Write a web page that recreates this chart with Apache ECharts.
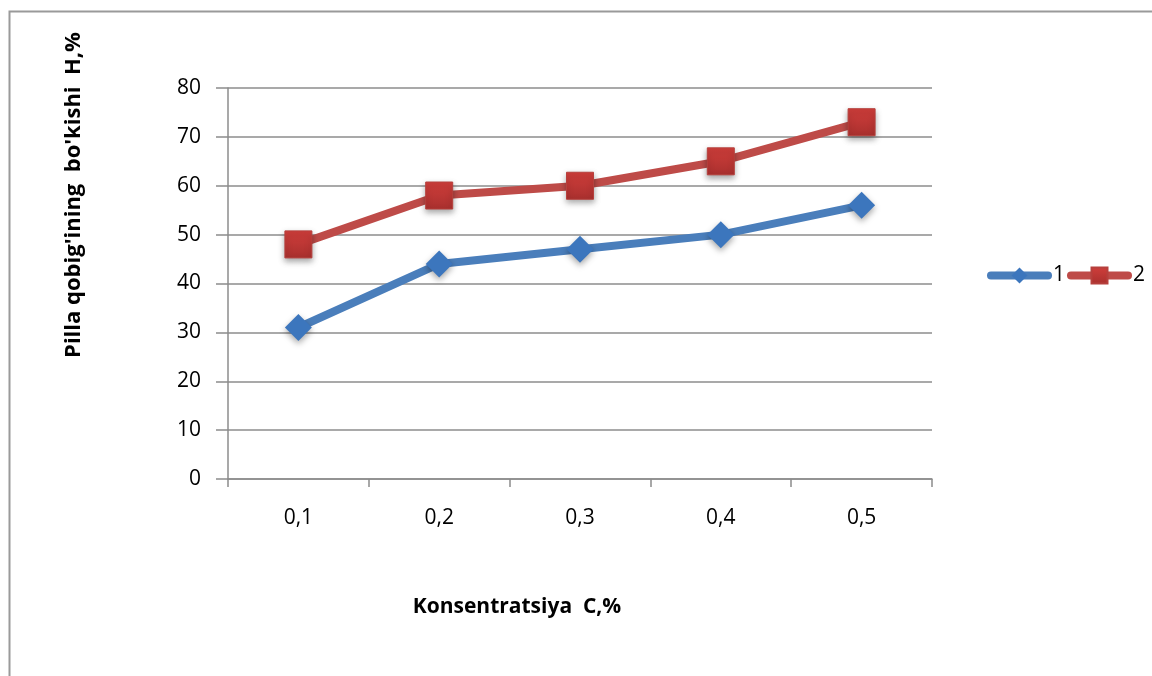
<!DOCTYPE html>
<html>
<head>
<meta charset="utf-8">
<script src="https://cdn.jsdelivr.net/npm/echarts@6/dist/echarts.min.js"></script>
<style>
  html, body { margin: 0; padding: 0; background: #fff; }
  #chart { width: 1152px; height: 676px; }
</style>
</head>
<body>
<div id="chart"></div>
<script>
// Concentration categories and the two measured series
const categories = ['0,1', '0,2', '0,3', '0,4', '0,5'];
const series1 = [31, 44, 47, 50, 56];
const series2 = [48, 58, 60, 65, 73];
const seriesNames = ['1', '2'];
const yTicks = { min: 0, max: 80, interval: 10 };

const font = '"Open Sans", Lato, sans-serif';
const axisGrey = '#8c8c8c';
const chart = echarts.init(document.getElementById('chart'));

chart.setOption({
  animation: false,
  backgroundColor: '#fff',
  grid: { left: 228, right: 220, top: 88, bottom: 197, containLabel: false },
  legend: {
    orient: 'horizontal',
    left: 987, top: 265, width: 200, padding: 0,
    itemWidth: 57, itemHeight: 20, itemGap: 2,
    lineStyle: { width: 8, cap: 'round' },
    textStyle: { fontFamily: font, fontSize: 21, color: '#000' },
    data: seriesNames
  },
  xAxis: {
    type: 'category',
    data: categories,
    boundaryGap: true,
    axisLine: { lineStyle: { color: axisGrey, width: 1.5 } },
    axisTick: { show: true, length: 8, lineStyle: { color: axisGrey, width: 1.5 } },
    axisLabel: { fontFamily: font, fontSize: 21, color: '#000', margin: 29 }
  },
  yAxis: {
    type: 'value',
    min: yTicks.min, max: yTicks.max, interval: yTicks.interval,
    axisLine: { show: true, lineStyle: { color: axisGrey, width: 1.5 } },
    axisTick: { show: true, length: 12, lineStyle: { color: axisGrey, width: 1.5 } },
    axisLabel: { fontFamily: font, fontSize: 21, color: '#000', margin: 27 },
    splitLine: { lineStyle: { color: axisGrey, width: 1.5 } }
  },
  series: [
    {
      name: seriesNames[0], type: 'line', data: series1,
      symbol: 'diamond', symbolSize: 27,
      lineStyle: { width: 8, color: '#4a7ebb', cap: 'round', join: 'round' },
      itemStyle: {
        color: '#3c76bd',
        shadowBlur: 6, shadowColor: 'rgba(0,0,0,0.35)', shadowOffsetY: 3
      }
    },
    {
      name: seriesNames[1], type: 'line', data: series2,
      symbol: 'rect', symbolSize: 27,
      lineStyle: { width: 8, color: '#be4b48', cap: 'round', join: 'round' },
      itemStyle: {
        color: new echarts.graphic.LinearGradient(0, 0, 0, 1, [
          { offset: 0, color: '#d03e3b' }, { offset: 1, color: '#a9302e' }
        ]),
        borderColor: '#b6403d', borderWidth: 1,
        shadowBlur: 6, shadowColor: 'rgba(0,0,0,0.35)', shadowOffsetY: 3
      }
    }
  ],
  graphic: [
    {
      type: 'rect', left: 7, top: 9, silent: true,
      shape: { width: 1160, height: 680 },
      style: { fill: 'none', stroke: '#9a9a9a', lineWidth: 2 }
    },
    {
      type: 'text', x: 74, y: 195, rotation: Math.PI / 2, silent: true,
      style: {
        text: "Pilla qobig'ining  bo'kishi  H,%",
        font: 'bold 22px ' + font, fill: '#000',
        textAlign: 'center', textVerticalAlign: 'middle'
      }
    },
    {
      type: 'text', x: 517, y: 607, silent: true,
      style: {
        text: 'Konsentratsiya  C,%',
        font: 'bold 21px ' + font, fill: '#000',
        textAlign: 'center', textVerticalAlign: 'middle'
      }
    }
  ]
});
</script>
</body>
</html>
